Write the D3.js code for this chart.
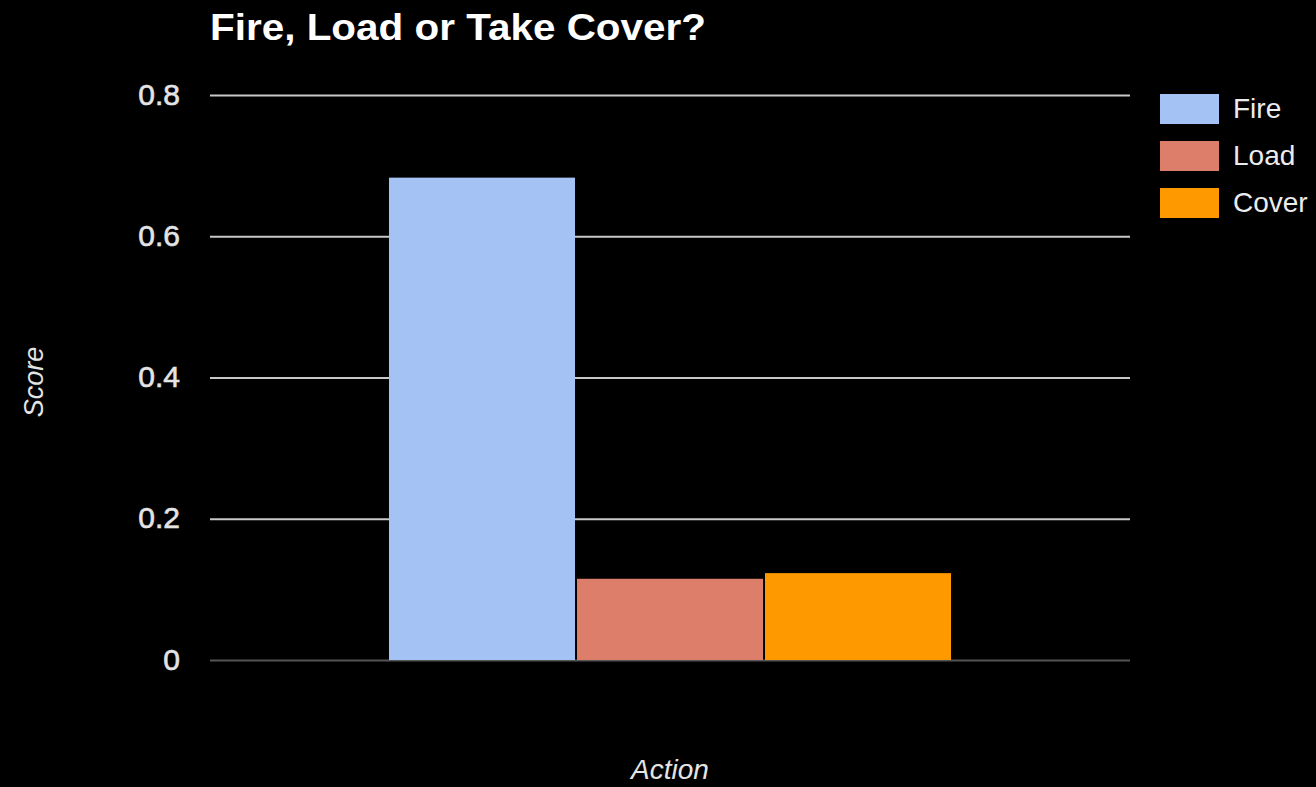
<!DOCTYPE html>
<html>
<head>
<meta charset="utf-8">
<script src="https://cdn.jsdelivr.net/npm/d3@7"></script>
<style>
  body { margin: 0; background: #000; }
  svg { display: block; font-family: "Liberation Sans", Arial, sans-serif; }
</style>
</head>
<body>
<div id="chart"></div>
<script>
// chart data
var categories = [""];
var seriesNames = ["Fire", "Load", "Cover"];
var seriesValues = [0.683, 0.115, 0.123];
var seriesColors = ["#a4c2f4", "#dd7e6b", "#ff9900"];
var yTicks = [0, 0.2, 0.4, 0.6, 0.8];

var svgWidth = 1316;
var svgHeight = 787;

var chartMargin = { top: 95, right: 186, bottom: 127, left: 210 };
var chartWidth = svgWidth - chartMargin.left - chartMargin.right;
var chartHeight = svgHeight - chartMargin.top - chartMargin.bottom;

var svg = d3.select("#chart")
    .append("svg")
    .attr("width", svgWidth)
    .attr("height", svgHeight);

svg.append("rect")
    .attr("width", svgWidth)
    .attr("height", svgHeight)
    .attr("fill", "#000");

var chartGroup = svg.append("g")
    .attr("transform", `translate(${chartMargin.left}, ${chartMargin.top})`);

// scales
var yScale = d3.scaleLinear()
    .domain([0, 0.8])
    .range([chartHeight, 0]);

var x0 = d3.scaleBand()
    .domain(categories)
    .range([0, chartWidth])
    .paddingInner(0)
    .paddingOuter(0.3156);

var x1 = d3.scaleBand()
    .domain(seriesNames)
    .range([0, x0.bandwidth()]);

// gridlines
var leftAxis = d3.axisLeft(yScale)
    .tickValues(yTicks)
    .tickSize(-chartWidth)
    .tickPadding(30)
    .tickFormat(d => d === 0 ? "0" : d3.format(".1f")(d));

var yAxis = chartGroup.append("g").call(leftAxis);
yAxis.select(".domain").remove();
yAxis.selectAll(".tick line")
    .attr("stroke", d => d === 0 ? "#555" : "#c8c8c8")
    .attr("stroke-width", 2);
yAxis.selectAll(".tick text")
    .attr("fill", "#e4e4e4")
    .attr("stroke", "#e4e4e4")
    .attr("stroke-width", 0.6)
    .attr("font-size", 30)
    .attr("dy", "0.3em");

// bars
var group = chartGroup.selectAll(".cat")
    .data(categories)
    .enter()
    .append("g")
    .attr("transform", d => `translate(${x0(d)}, 0)`);

group.selectAll("rect")
    .data(seriesNames.map((name, i) => ({ name: name, value: seriesValues[i], color: seriesColors[i] })))
    .enter()
    .append("rect")
    .attr("x", d => x1(d.name) + 1)
    .attr("width", x1.bandwidth() - 2)
    .attr("y", d => yScale(d.value))
    .attr("height", d => chartHeight - yScale(d.value))
    .attr("fill", d => d.color);

// title
svg.append("text")
    .attr("x", 210)
    .attr("y", 40)
    .attr("fill", "#fff")
    .attr("font-size", 37)
    .attr("font-weight", "bold")
    .attr("textLength", 496)
    .attr("lengthAdjust", "spacingAndGlyphs")
    .text("Fire, Load or Take Cover?");

// axis titles
svg.append("text")
    .attr("transform", "translate(43, 382) rotate(-90)")
    .attr("text-anchor", "middle")
    .attr("fill", "#e4e4e4")
    .attr("font-size", 27)
    .attr("font-style", "italic")
    .text("Score");

svg.append("text")
    .attr("x", chartMargin.left + chartWidth / 2)
    .attr("y", 779)
    .attr("text-anchor", "middle")
    .attr("fill", "#e4e4e4")
    .attr("font-size", 28)
    .attr("font-style", "italic")
    .text("Action");

// legend
var legend = svg.append("g")
    .attr("transform", "translate(1160, 94)");

var legendItem = legend.selectAll("g")
    .data(seriesNames)
    .enter()
    .append("g")
    .attr("transform", (d, i) => `translate(0, ${i * 47})`);

legendItem.append("rect")
    .attr("width", 59)
    .attr("height", 30)
    .attr("fill", (d, i) => seriesColors[i]);

legendItem.append("text")
    .attr("x", 73)
    .attr("y", 24)
    .attr("fill", "#ececec")
    .attr("font-size", 28)
    .text(d => d);
</script>
</body>
</html>
